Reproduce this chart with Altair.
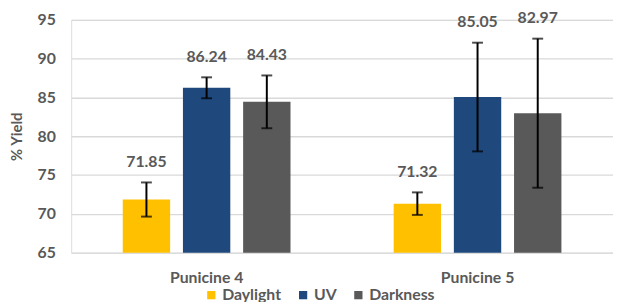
import altair as alt
import pandas as pd

groups = ["Punicine 4", "Punicine 4", "Punicine 4", "Punicine 5", "Punicine 5", "Punicine 5"]
conditions = ["Daylight", "UV", "Darkness", "Daylight", "UV", "Darkness"]
yields = [71.85, 86.24, 84.43, 71.32, 85.05, 82.97]
errors = [2.2, 1.35, 3.4, 1.45, 7.0, 9.6]
y_ticks = [65, 70, 75, 80, 85, 90, 95]

cond_order = ["Daylight", "UV", "Darkness"]
cond_colors = ["#FFC000", "#1F497D", "#595959"]

df = pd.DataFrame({
    "group": groups,
    "cond": conditions,
    "value": yields,
    "err": errors,
})
df["lo"] = df["value"] - df["err"]
df["hi"] = df["value"] + df["err"]
df["label"] = df["value"].map(lambda v: f"{v:.2f}")

FONT = "Lato"
GRAY = "#595959"

x_enc = alt.X("group:N", title=None, sort=["Punicine 4", "Punicine 5"],
              scale=alt.Scale(paddingInner=0, paddingOuter=0),
              axis=alt.Axis(labelAngle=0, domain=False, ticks=False, labelPadding=17,
                            labelFontSize=16, labelFontWeight="bold", labelColor=GRAY,
                            labelFont=FONT))
xo_enc = alt.XOffset("cond:N", sort=cond_order,
                     scale=alt.Scale(paddingInner=0.213, paddingOuter=0.857))

yscale = alt.Scale(domain=[65, 95], zero=False, nice=False)
yaxis = alt.Axis(values=y_ticks, tickCount=7, labelOverlap=False, domain=False, ticks=False,
                 gridColor="#D9D9D9", gridWidth=1.3, labelPadding=16,
                 labelFontSize=16, labelFontWeight="bold", labelColor=GRAY,
                 labelFont=FONT, titleFont=FONT, titleFontSize=15,
                 titleFontWeight="bold", titleColor=GRAY, titlePadding=13)

base = alt.Chart(df)

bars = base.mark_bar().encode(
    x=x_enc,
    xOffset=xo_enc,
    y=alt.Y("value:Q", scale=yscale, title="% Yield", axis=yaxis),
    y2=alt.datum(65),
    color=alt.Color("cond:N", sort=cond_order,
                    scale=alt.Scale(domain=cond_order, range=cond_colors),
                    legend=alt.Legend(title=None, orient="none", direction="horizontal",
                                      legendX=134, legendY=271, symbolType="square",
                                      symbolSize=70, symbolStrokeWidth=0,
                                      labelFontSize=16, labelFontWeight="bold",
                                      labelColor=GRAY, labelFont=FONT,
                                      columnPadding=14, symbolOffset=0, labelOffset=3)),
)

rules = base.mark_rule(color="black", strokeWidth=2).encode(
    x=x_enc, xOffset=xo_enc,
    y=alt.Y("lo:Q", scale=yscale, title="% Yield", axis=yaxis), y2="hi:Q",
)
caps_hi = base.mark_tick(color="black", thickness=2, size=11).encode(
    x=x_enc, xOffset=xo_enc, y=alt.Y("hi:Q", scale=yscale, title="% Yield", axis=yaxis))
caps_lo = base.mark_tick(color="black", thickness=2, size=11).encode(
    x=x_enc, xOffset=xo_enc, y=alt.Y("lo:Q", scale=yscale, title="% Yield", axis=yaxis))

labels = base.mark_text(dy=-21, fontSize=16, fontWeight="bold", color=GRAY,
                        font=FONT, baseline="middle").encode(
    x=x_enc, xOffset=xo_enc,
    y=alt.Y("hi:Q", scale=yscale, title="% Yield", axis=yaxis),
    text="label:N",
)

chart = alt.layer(bars, rules, caps_hi, caps_lo, labels).properties(
    width=549, height=236,
    autosize=alt.AutoSizeParams(type="none"),
    padding={"left": 64, "top": 10, "right": 0, "bottom": 48},
).configure_view(stroke=None).configure(background="white")

chart.save("out.html", embed_options={"renderer": "svg", "actions": False})
